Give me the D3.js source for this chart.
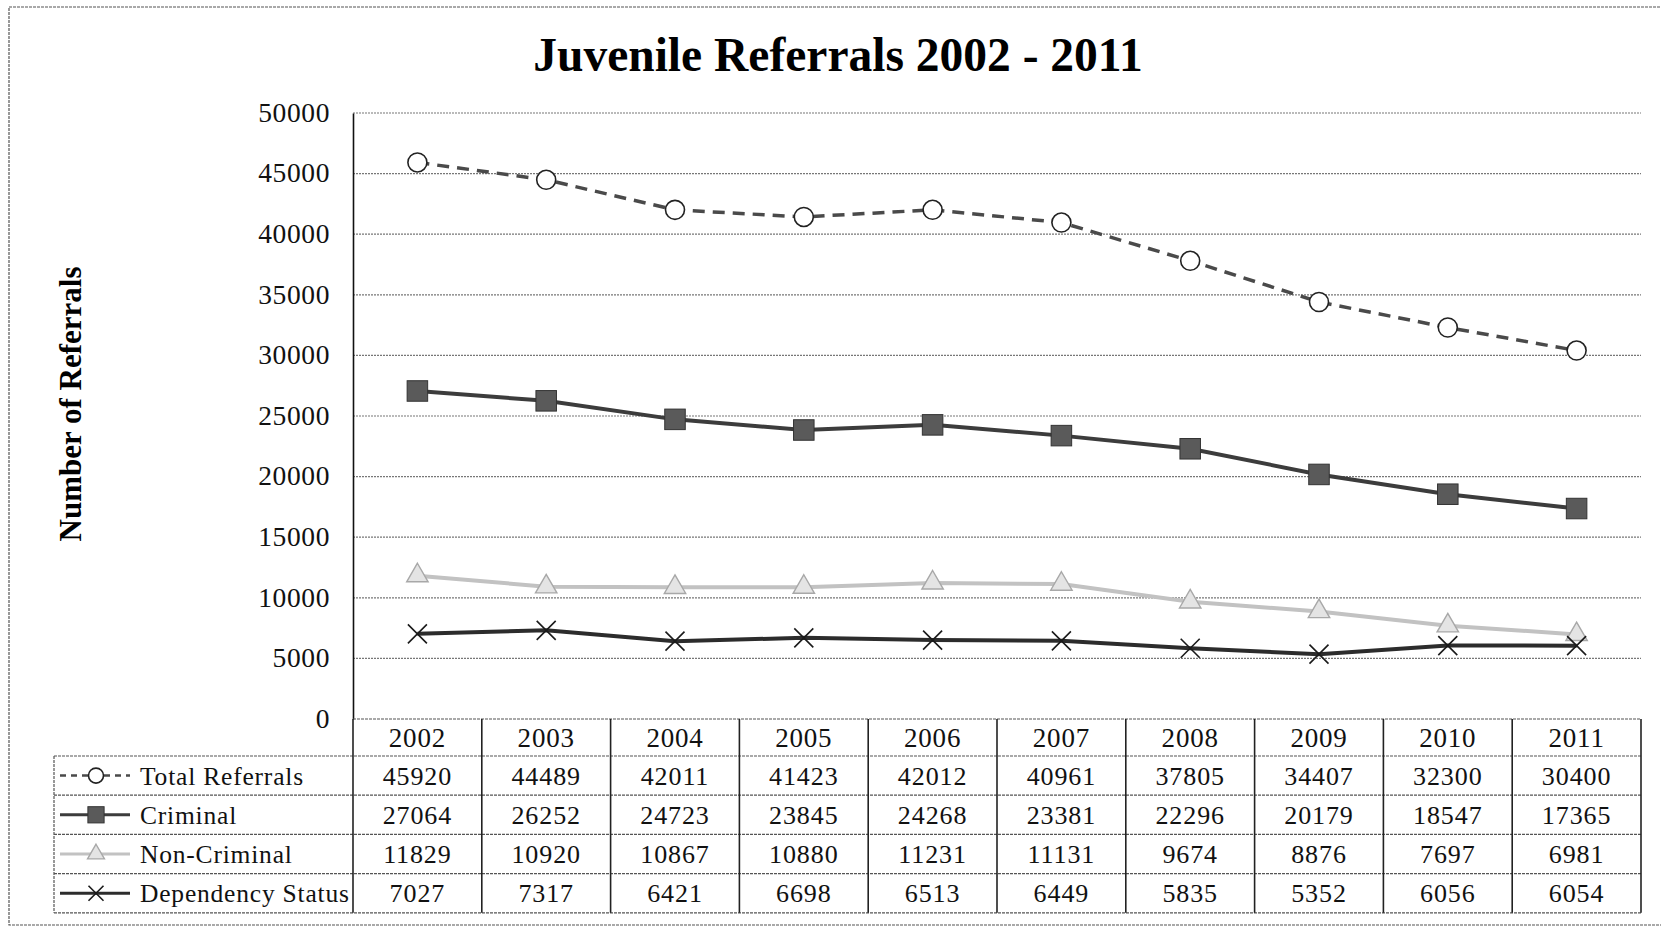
<!DOCTYPE html>
<html>
<head>
<meta charset="utf-8">
<script src="https://cdn.jsdelivr.net/npm/d3@7"></script>
<style>
    body { margin: 0; background: #fff; }
    svg { display: block; font-family: 'Liberation Serif', 'Times New Roman', serif; }
</style>
</head>
<body>
<svg id="chart" width="1661" height="927"></svg>
<script>
var years = ['2002', '2003', '2004', '2005', '2006', '2007', '2008', '2009', '2010', '2011'];
var total_referrals = [45920, 44489, 42011, 41423, 42012, 40961, 37805, 34407, 32300, 30400];
var criminal = [27064, 26252, 24723, 23845, 24268, 23381, 22296, 20179, 18547, 17365];
var non_criminal = [11829, 10920, 10867, 10880, 11231, 11131, 9674, 8876, 7697, 6981];
var dependency_status = [7027, 7317, 6421, 6698, 6513, 6449, 5835, 5352, 6056, 6054];
var y_ticks = [0, 5000, 10000, 15000, 20000, 25000, 30000, 35000, 40000, 45000, 50000];

var series = [
    { name: 'Total Referrals', values: total_referrals, marker: 'circle',
      stroke: '#4a4a4a', width: 3.5, dash: '12,8' },
    { name: 'Criminal', values: criminal, marker: 'square',
      stroke: '#3c3c3c', width: 4, dash: null },
    { name: 'Non-Criminal', values: non_criminal, marker: 'triangle',
      stroke: '#c2c2c2', width: 4, dash: null },
    { name: 'Dependency Status', values: dependency_status, marker: 'cross',
      stroke: '#2c2c2c', width: 4, dash: null },
];

var plot = { left: 353, right: 1641, top: 113, bottom: 719 };
var table_left = 54;
var header_h = 37, row_h = 39.2;

var svg = d3.select('#chart');

var x = d3.scaleBand()
    .domain(years)
    .range([plot.left, plot.right]);

var y = d3.scaleLinear()
    .domain([0, 50000])
    .range([plot.bottom, plot.top]);

function cx(i) { return x(years[i]) + x.bandwidth() / 2; }

// outer frame (right side runs off the page)
svg.append('rect')
    .attr('x', 9).attr('y', 7)
    .attr('width', 1700).attr('height', 918)
    .attr('fill', 'none')
    .attr('stroke', '#555')
    .attr('stroke-width', 1.2)
    .attr('stroke-dasharray', '3,1');

// title
svg.append('text')
    .attr('x', 838).attr('y', 71)
    .attr('text-anchor', 'middle')
    .attr('font-weight', 'bold')
    .attr('font-size', 47.5)
    .text('Juvenile Referrals 2002 - 2011');

// y axis title
svg.append('text')
    .attr('transform', 'translate(81,404) rotate(-90)')
    .attr('text-anchor', 'middle')
    .attr('font-weight', 'bold')
    .attr('font-size', 31)
    .text('Number of Referrals');

// gridlines
svg.append('g')
    .selectAll('line')
    .data(y_ticks.filter(d => d > 0))
    .enter().append('line')
        .attr('x1', plot.left).attr('x2', plot.right)
        .attr('y1', d => y(d)).attr('y2', d => y(d))
        .attr('stroke', '#777')
        .attr('stroke-width', 1.2)
        .attr('stroke-dasharray', '2,1');

// y axis
var yaxis = svg.append('g')
    .attr('transform', 'translate(' + plot.left + ',0)')
    .call(d3.axisLeft(y).tickValues(y_ticks).tickSize(0).tickPadding(23).tickFormat(d3.format('d')));
yaxis.select('.domain')
    .attr('stroke', '#111')
    .attr('stroke-width', 1.6);
yaxis.selectAll('text')
    .attr('font-family', "'Liberation Serif', serif")
    .attr('font-size', 27.5)
    .attr('letter-spacing', 0.6)
    .attr('fill', '#111')
    .attr('dy', '0.3em');

// lines
var line = d3.line()
    .x((d, i) => cx(i))
    .y(d => y(d));

var groups = svg.append('g')
    .selectAll('g')
    .data(series)
    .enter().append('g');

groups.append('path')
    .attr('d', d => line(d.values))
    .attr('fill', 'none')
    .attr('stroke', d => d.stroke)
    .attr('stroke-width', d => d.width)
    .attr('stroke-dasharray', d => d.dash);

function draw_marker(sel, kind, size) {
    var s = size;
    if (kind == 'circle') {
        sel.append('circle')
            .attr('r', s * 0.5)
            .attr('fill', '#fff')
            .attr('stroke', '#222')
            .attr('stroke-width', 1.6);
    } else if (kind == 'square') {
        s = s * 1.08;
        sel.append('rect')
            .attr('x', -s / 2).attr('y', -s / 2)
            .attr('width', s).attr('height', s)
            .attr('fill', '#5a5a5a')
            .attr('stroke', '#333')
            .attr('stroke-width', 1);
    } else if (kind == 'triangle') {
        sel.append('path')
            .attr('d', d3.symbol(d3.symbolTriangle, s * s * 0.55)())
            .attr('fill', '#e4e4e4')
            .attr('stroke', '#a8a8a8')
            .attr('stroke-width', 1.4);
    } else {
        var h = s * 0.5;
        sel.append('path')
            .attr('d', 'M' + -h + ',' + -h + 'L' + h + ',' + h + 'M' + h + ',' + -h + 'L' + -h + ',' + h)
            .attr('stroke', '#1a1a1a')
            .attr('stroke-width', 1.6);
    }
}

groups.each(function(d) {
    d3.select(this)
        .selectAll('g.marker')
        .data(d.values)
        .enter().append('g')
            .attr('class', 'marker')
            .attr('transform', (v, i) => 'translate(' + cx(i) + ',' + y(v) + ')')
            .each(function() { draw_marker(d3.select(this), d.marker, 19); });
});

// data table
var table = svg.append('g');
var table_bottom = plot.bottom + header_h + row_h * series.length;

// horizontal rules
var hrows = [plot.bottom, plot.bottom + header_h];
series.forEach(function(s, i) { hrows.push(plot.bottom + header_h + row_h * (i + 1)); });
table.selectAll('line.h')
    .data(hrows)
    .enter().append('line')
        .attr('class', 'h')
        .attr('x1', (d, i) => i == 0 ? plot.left : table_left)
        .attr('x2', plot.right)
        .attr('y1', d => d).attr('y2', d => d)
        .attr('stroke', '#555')
        .attr('stroke-width', 1.2)
        .attr('stroke-dasharray', '3,1');

// vertical rules between year columns
var vcols = years.map(d => x(d)).concat([plot.right]);
table.selectAll('line.v')
    .data(vcols)
    .enter().append('line')
        .attr('class', 'v')
        .attr('x1', d => d).attr('x2', d => d)
        .attr('y1', plot.bottom).attr('y2', table_bottom)
        .attr('stroke', '#222')
        .attr('stroke-width', 1.6);

table.append('line')
    .attr('x1', table_left).attr('x2', table_left)
    .attr('y1', plot.bottom + header_h).attr('y2', table_bottom)
    .attr('stroke', '#555')
    .attr('stroke-width', 1.2)
    .attr('stroke-dasharray', '3,1');

// year header
table.selectAll('text.year')
    .data(years)
    .enter().append('text')
        .attr('class', 'year')
        .attr('x', d => x(d) + x.bandwidth() / 2)
        .attr('y', plot.bottom + header_h / 2 + 9)
        .attr('text-anchor', 'middle')
        .attr('font-size', 27)
        .attr('letter-spacing', 0.8)
        .attr('fill', '#111')
        .text(d => d);

// series rows
var rows = table.selectAll('g.row')
    .data(series)
    .enter().append('g')
        .attr('class', 'row')
        .attr('transform', (d, i) => 'translate(0,' + (plot.bottom + header_h + row_h * i) + ')');

rows.append('line')
    .attr('x1', table_left + 6).attr('x2', table_left + 76)
    .attr('y1', row_h / 2).attr('y2', row_h / 2)
    .attr('stroke', d => d.stroke)
    .attr('stroke-width', d => d.width - 1)
    .attr('stroke-dasharray', d => d.dash ? '6,5' : null);

rows.append('g')
    .attr('transform', 'translate(' + (table_left + 42) + ',' + (row_h / 2) + ')')
    .each(function(d) { draw_marker(d3.select(this), d.marker, 15); });

rows.append('text')
    .attr('x', table_left + 86)
    .attr('y', row_h / 2 + 9)
    .attr('font-size', 25.5)
    .attr('letter-spacing', 0.8)
    .attr('fill', '#111')
    .text(d => d.name);

rows.selectAll('text.val')
    .data(d => d.values)
    .enter().append('text')
        .attr('class', 'val')
        .attr('x', (v, i) => cx(i))
        .attr('y', row_h / 2 + 9)
        .attr('text-anchor', 'middle')
        .attr('font-size', 26)
        .attr('letter-spacing', 0.9)
        .attr('fill', '#111')
        .text(v => v);
</script>
</body>
</html>
